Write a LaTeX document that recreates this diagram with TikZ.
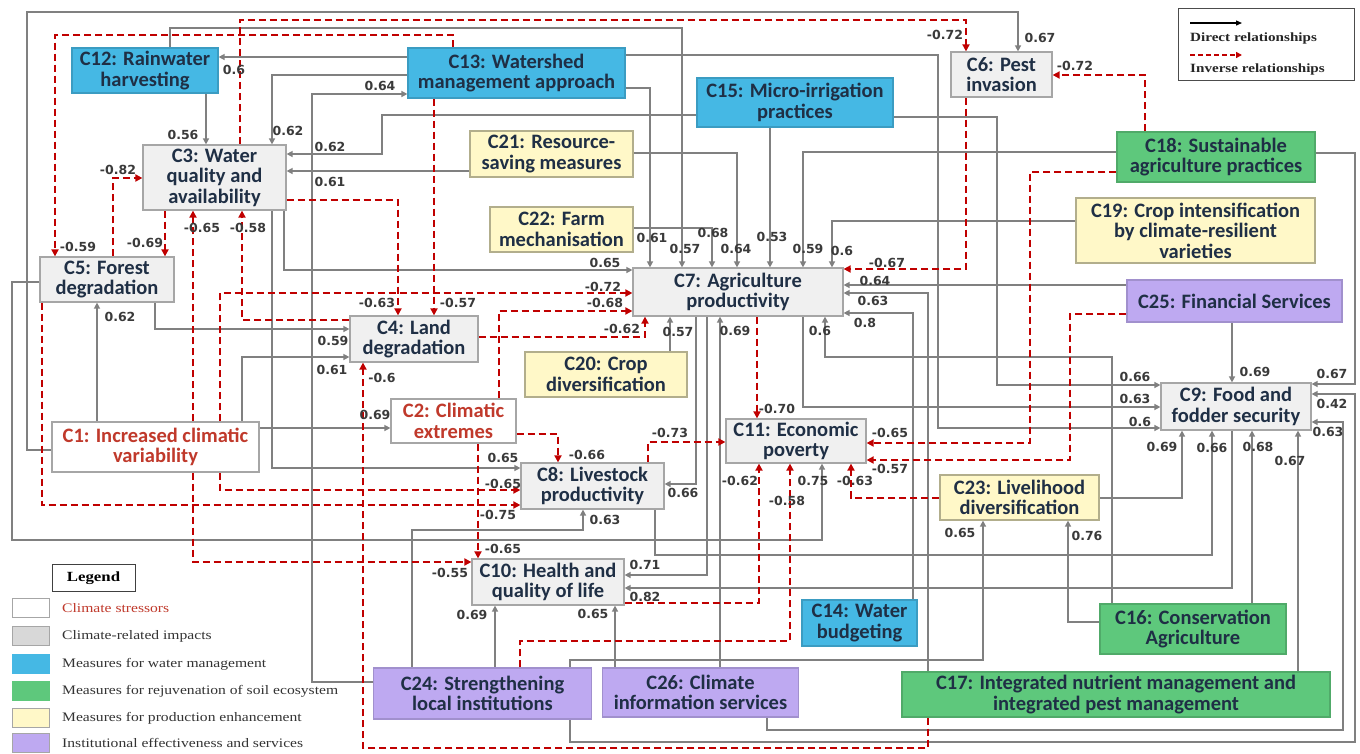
\documentclass[tikz,border=0pt]{standalone}
\usepackage{fontspec}
\setmainfont{Carlito}
\newfontfamily\labfont{DejaVu Sans}
\newfontfamily\legfont[FakeStretch=1.2]{Liberation Serif}
\usetikzlibrary{arrows.meta}
\pgfdeclarelayer{bg}
\pgfsetlayers{bg,main}
\definecolor{edgegray}{HTML}{808080}
\definecolor{negred}{HTML}{C00000}
\definecolor{boxline}{HTML}{A6A6A6}
\definecolor{impfill}{HTML}{F0F0F0}
\definecolor{watfill}{HTML}{45B8E4}
\definecolor{soilfill}{HTML}{5EC87C}
\definecolor{prodfill}{HTML}{FFF8C8}
\definecolor{instfill}{HTML}{BEA9F1}
\definecolor{nodetext}{HTML}{1F2F45}
\definecolor{strtext}{HTML}{C0392B}
\definecolor{labgray}{HTML}{3A3A3A}
\begin{document}
\begin{tikzpicture}[x=1pt,y=-1pt,
 cbox/.style={draw=boxline,line width=1.2pt,align=center,inner sep=0pt,text=nodetext,font=\bfseries\fontsize{20.5}{20.5}\selectfont},
 imp/.style={cbox,fill=impfill},
 stressor/.style={cbox,fill=white,text=strtext},
 water/.style={cbox,fill=watfill,draw=watfill!85!black},
 soil/.style={cbox,fill=soilfill,draw=soilfill!85!black},
 prodm/.style={cbox,fill=prodfill,draw=prodfill!70!black},
 inst/.style={cbox,fill=instfill,draw=instfill!85!black},
 posarr/.style={draw=edgegray,line width=1.4pt,-{Triangle[length=6pt,width=6pt]}},
 negarr/.style={draw=negred,line width=1.9pt,dash pattern=on 7pt off 4pt,-{Triangle[length=7pt,width=7pt]}},
 lab/.style={text=labgray,inner sep=0pt,font=\labfont\bfseries\fontsize{12.5}{13}\selectfont},
 swatch/.style={draw=boxline,line width=1pt,minimum width=37,minimum height=19,inner sep=0pt},
 legtxt/.style={anchor=west,inner sep=0pt,text=black!80,font=\legfont\fontsize{13}{13}\selectfont},
 toptxt/.style={anchor=west,inner sep=0pt,text=black!85,font=\legfont\bfseries\fontsize{12.6}{13}\selectfont},
]
\useasboundingbox (0,0) rectangle (1360,753);
% ---------- nodes ----------
\node[water,minimum width=146,minimum height=45] (C12) at (145,70.5) {C12: Rainwater\\harvesting};
\node[water,minimum width=217,minimum height=50] (C13) at (516.5,73) {C13: Watershed\\management approach};
\node[water,minimum width=196,minimum height=49] (C15) at (795,102.5) {C15: Micro-irrigation\\practices};
\node[imp,minimum width=101,minimum height=45] (C6) at (1001.5,74.5) {C6: Pest\\invasion};
\node[soil,minimum width=198,minimum height=50] (C18) at (1216,157) {C18: Sustainable\\agriculture practices};
\node[prodm,minimum width=239,minimum height=65] (C19) at (1195.5,230.5) {C19: Crop intensification\\by climate-resilient\\varieties};
\node[inst,minimum width=215,minimum height=42] (C25) at (1234.5,301) {C25: Financial Services};
\node[prodm,minimum width=163,minimum height=46] (C21) at (551.5,154) {C21: Resource-\\saving measures};
\node[prodm,minimum width=143,minimum height=45] (C22) at (561.5,229.5) {C22: Farm\\mechanisation};
\node[imp,minimum width=143,minimum height=65] (C3) at (214.5,177.5) {C3: Water\\quality and\\availability};
\node[imp,minimum width=134,minimum height=45] (C5) at (107,279.5) {C5: Forest\\degradation};
\node[imp,minimum width=210,minimum height=48] (C7) at (738,292) {C7: Agriculture\\productivity};
\node[imp,minimum width=128,minimum height=46] (C4) at (414,339) {C4: Land\\degradation};
\node[prodm,minimum width=162,minimum height=45] (C20) at (606,374.5) {C20: Crop\\diversification};
\node[stressor,minimum width=125,minimum height=44] (C2) at (453.5,421) {C2: Climatic\\extremes};
\node[stressor,minimum width=207,minimum height=50] (C1) at (155.5,447) {C1: Increased climatic\\variability};
\node[imp,minimum width=140,minimum height=44] (C11) at (796,441) {C11: Economic\\poverty};
\node[imp,minimum width=143,minimum height=46] (C8) at (592.5,486) {C8: Livestock\\productivity};
\node[prodm,minimum width=159,minimum height=45] (C23) at (1019.5,497.5) {C23: Livelihood\\diversification};
\node[imp,minimum width=150,minimum height=47] (C9) at (1236,406.5) {C9: Food and\\fodder security};
\node[imp,minimum width=152,minimum height=46] (C10) at (548,582) {C10: Health and\\quality of life};
\node[water,minimum width=115,minimum height=46] (C14) at (859.5,623) {C14: Water\\budgeting};
\node[soil,minimum width=186,minimum height=50] (C16) at (1193,629) {C16: Conservation\\Agriculture};
\node[soil,minimum width=428,minimum height=45] (C17) at (1116,694.5) {C17: Integrated nutrient management and\\integrated pest management};
\node[inst,minimum width=218,minimum height=51] (C24) at (482.5,693.5) {C24: Strengthening\\local institutions};
\node[inst,minimum width=196,minimum height=49] (C26) at (700.5,692.5) {C26: Climate\\information services};
% ---------- connectors ----------
\begin{pgfonlayer}{bg}
\fill[white] (0,0) rectangle (1360,753);
% direct
\draw[posarr] (C13.west |- 0,57) -- (C12.east |- 0,57);
\draw[posarr] (C13.west |- 0,75) -| (272,0 |- C3.north);
\draw[posarr] (C24.west |- 0,682) -| (312,94) -- (C13.west |- 0,94);
\draw[posarr] (206,0 |- C12.south) -- (206,0 |- C3.north);
\draw[posarr] (170,0 |- C12.north) |- (682,28) -- (682,0 |- C7.north);
\draw[posarr] (C15.west |- 0,115) -| (382,154) -- (C3.east |- 0,154);
\draw[posarr] (C21.west |- 0,171) -- (C3.east |- 0,171);
\draw[posarr] (284,0 |- C3.south) |- (C7.west |- 0,270);
\draw[posarr] (272,0 |- C3.south) |- (C8.west |- 0,468);
\draw[posarr] (155,0 |- C5.south) |- (C4.west |- 0,329);
\draw[posarr] (242,0 |- C1.north) |- (C4.west |- 0,357);
\draw[posarr] (97,0 |- C1.north) -- (97,0 |- C5.south);
\draw[posarr] (C1.east |- 0,428) -- (C2.west |- 0,428);
\draw[posarr] (C1.west |- 0,450) -| (27,12) -| (1018,0 |- C6.north);
\draw[posarr] (C5.west |- 0,282) -| (12,540) -| (822,0 |- C11.south);
\draw[posarr] (670,0 |- C20.north) -- (670,0 |- C7.south);
\draw[posarr] (C13.east |- 0,88) -| (650,0 |- C7.north);
\draw[posarr] (C22.east |- 0,228) -| (712,0 |- C7.north);
\draw[posarr] (C21.east |- 0,153) -| (737,0 |- C7.north);
\draw[posarr] (770,0 |- C15.south) -- (770,0 |- C7.north);
\draw[posarr] (C18.west |- 0,152) -| (803,0 |- C7.north);
\draw[posarr] (C19.west |- 0,221) -| (832,0 |- C7.north);
\draw[posarr] (C25.west |- 0,285) -- (C7.east |- 0,285);
\draw[posarr] (928,0 |- C17.north) |- (C7.east |- 0,293);
\draw[posarr] (913,0 |- C14.north) |- (C7.east |- 0,313);
\draw[posarr] (720,0 |- C26.north) -- (720,0 |- C7.south);
\draw[posarr] (1112,0 |- C16.north) |- (825,357) -- (825,0 |- C7.south);
\draw[posarr] (696,0 |- C7.south) |- (C8.east |- 0,484);
\draw[posarr] (707,0 |- C7.south) |- (C10.east |- 0,575);
\draw[posarr] (803,0 |- C7.south) |- (C9.west |- 0,407);
\draw[posarr] (C15.east |- 0,117) -| (997,385) -- (C9.west |- 0,385);
\draw[posarr] (C13.east |- 0,55) -| (938,428) -- (C9.west |- 0,428);
\draw[posarr] (655,0 |- C8.south) |- (1212,555) -- (1212,0 |- C9.south);
\draw[posarr] (C23.east |- 0,498) -| (1182,0 |- C9.south);
\draw[posarr] (1252,0 |- C16.north) -- (1252,0 |- C9.south);
\draw[posarr] (1298,0 |- C17.north) -- (1298,0 |- C9.south);
\draw[posarr] (1232,0 |- C9.south) |- (C10.east |- 0,588);
\draw[posarr] (1232,0 |- C25.south) -- (1232,0 |- C9.north);
\draw[posarr] (C18.east |- 0,153) -| (1355,384) -- (C9.east |- 0,384);
\draw[posarr] (570,0 |- C24.south) |- (1355,742) -- (1355,394) -- (C9.east |- 0,394);
\draw[posarr] (767,0 |- C26.south) |- (1343,730) -- (1343,422) -- (C9.east |- 0,422);
\draw[posarr] (570,0 |- C24.north) |- (983,660) -- (983,0 |- C23.south);
\draw[posarr] (C16.west |- 0,622) -| (1068,0 |- C23.south);
\draw[posarr] (412,0 |- C24.north) |- (583,530) -- (583,0 |- C8.south);
\draw[posarr] (495,0 |- C24.north) -- (495,0 |- C10.south);
\draw[posarr] (615,0 |- C26.north) -- (615,0 |- C10.south);
% inverse
\draw[negarr] (240,0 |- C3.north) |- (966,20) -- (966,0 |- C6.north);
\draw[negarr] (966,0 |- C6.south) |- (C7.east |- 0,269);
\draw[negarr] (1145,0 |- C18.north) |- (C6.east |- 0,75);
\draw[negarr] (453,0 |- C13.north) |- (55,35) -- (55,0 |- C5.north);
\draw[negarr] (C3.east |- 0,200) -| (398,0 |- C4.north);
\draw[negarr] (113,0 |- C5.north) |- (C3.west |- 0,178);
\draw[negarr] (165,0 |- C3.south) -- (165,0 |- C5.north);
\draw[negarr] (193,0 |- C1.north) -- (193,0 |- C3.south);
\draw[negarr] (193,0 |- C1.south) |- (C10.west |- 0,562);
\draw[negarr] (C4.west |- 0,320) -| (242,0 |- C3.south);
\draw[negarr] (434,0 |- C13.south) -- (434,0 |- C4.north);
\draw[negarr] (220,0 |- C1.north) |- (C7.west |- 0,293);
\draw[negarr] (220,0 |- C1.south) |- (C8.west |- 0,490);
\draw[negarr] (42,0 |- C5.south) |- (C8.west |- 0,505);
\draw[negarr] (499,0 |- C2.north) |- (C7.west |- 0,311);
\draw[negarr] (C4.east |- 0,337) -| (645,0 |- C7.south);
\draw[negarr] (C2.east |- 0,434) -| (558,0 |- C8.north);
\draw[negarr] (478,0 |- C2.south) -- (478,0 |- C10.north);
\draw[negarr] (928,0 |- C17.south) |- (363,748) -- (363,0 |- C4.south);
\draw[negarr] (757,0 |- C7.south) -- (757,0 |- C11.north);
\draw[negarr] (C18.west |- 0,172) -| (1030,443) -- (C11.east |- 0,443);
\draw[negarr] (C25.west |- 0,314) -| (1070,460) -- (C11.east |- 0,460);
\draw[negarr] (C23.west |- 0,498) -| (851,0 |- C11.south);
\draw[negarr] (648,0 |- C8.north) |- (C11.west |- 0,442);
\draw[negarr] (C10.east |- 0,603) -| (759,0 |- C11.south);
\draw[negarr] (520,0 |- C24.north) |- (790,641) -- (790,0 |- C11.south);
\end{pgfonlayer}
% ---------- labels ----------
\node[lab] (l1) at (234,70) {0.6};
\node[lab] (l2) at (183,135) {0.56};
\node[lab] (l3) at (288,131) {0.62};
\node[lab] (l4) at (330,147) {0.62};
\node[lab] (l5) at (330,182) {0.61};
\node[lab] (l6) at (380,86) {0.64};
\node[lab] (l7) at (118,170) {-0.82};
\node[lab] (l8) at (78,247) {-0.59};
\node[lab] (l9) at (145,243) {-0.69};
\node[lab] (l10) at (202,228) {-0.65};
\node[lab] (l11) at (248,228) {-0.58};
\node[lab] (l12) at (945,35) {-0.72};
\node[lab] (l13) at (1040,38) {0.67};
\node[lab] (l14) at (1075,66) {-0.72};
\node[lab] (l15) at (652,238) {0.61};
\node[lab] (l16) at (685,249) {0.57};
\node[lab] (l17) at (713,233) {0.68};
\node[lab] (l18) at (736,249) {0.64};
\node[lab] (l19) at (772,237) {0.53};
\node[lab] (l20) at (808,249) {0.59};
\node[lab] (l21) at (842,251) {0.6};
\node[lab] (l22) at (887,263) {-0.67};
\node[lab] (l23) at (875,281) {0.64};
\node[lab] (l24) at (873,301) {0.63};
\node[lab] (l25) at (865,323) {0.8};
\node[lab] (l26) at (735,331) {0.69};
\node[lab] (l27) at (820,331) {0.6};
\node[lab] (l28) at (605,263) {0.65};
\node[lab] (l29) at (603,287) {-0.72};
\node[lab] (l30) at (605,303) {-0.68};
\node[lab] (l31) at (622,329) {-0.62};
\node[lab] (l32) at (678,332) {0.57};
\node[lab] (l33) at (377,303) {-0.63};
\node[lab] (l34) at (458,303) {-0.57};
\node[lab] (l35) at (333,341) {0.59};
\node[lab] (l36) at (332,370) {0.61};
\node[lab] (l37) at (382,378) {-0.6};
\node[lab] (l38) at (120,317) {0.62};
\node[lab] (l39) at (375,415) {0.69};
\node[lab] (l40) at (587,455) {-0.66};
\node[lab] (l41) at (503,458) {0.65};
\node[lab] (l42) at (503,484) {-0.65};
\node[lab] (l43) at (670,433) {-0.73};
\node[lab] (l44) at (683,493) {0.66};
\node[lab] (l45) at (498,515) {-0.75};
\node[lab] (l46) at (605,520) {0.63};
\node[lab] (l47) at (503,549) {-0.65};
\node[lab] (l48) at (450,573) {-0.55};
\node[lab] (l49) at (645,565) {0.71};
\node[lab] (l50) at (645,597) {0.82};
\node[lab] (l51) at (472,615) {0.69};
\node[lab] (l52) at (593,614) {0.65};
\node[lab] (l53) at (777,409) {-0.70};
\node[lab] (l54) at (890,433) {-0.65};
\node[lab] (l55) at (890,469) {-0.57};
\node[lab] (l56) at (740,481) {-0.62};
\node[lab] (l57) at (813,481) {0.75};
\node[lab] (l58) at (855,481) {-0.63};
\node[lab] (l59) at (787,501) {-0.58};
\node[lab] (l60) at (1135,377) {0.66};
\node[lab] (l61) at (1135,399) {0.63};
\node[lab] (l62) at (1140,422) {0.6};
\node[lab] (l63) at (1255,372) {0.69};
\node[lab] (l64) at (1332,374) {0.67};
\node[lab] (l65) at (1332,404) {0.42};
\node[lab] (l66) at (1328,432) {0.63};
\node[lab] (l67) at (1162,447) {0.69};
\node[lab] (l68) at (1212,448) {0.66};
\node[lab] (l69) at (1258,447) {0.68};
\node[lab] (l70) at (1290,461) {0.67};
\node[lab] (l71) at (960,533) {0.65};
\node[lab] (l72) at (1087,536) {0.76};
% ---------- top-right legend ----------
\node[draw=black!70,line width=0.8pt,minimum width=176,minimum height=72,inner sep=0pt] (legbox) at (1266,44) {};
\coordinate (da) at (1190,23);
\coordinate (db) at (1242,23);
\coordinate (ia) at (1190,55);
\coordinate (ib) at (1242,55);
\draw[black,line width=1.3pt,-{Triangle[length=6pt,width=5pt]}] (da) -- (db);
\draw[negred,line width=1.6pt,dash pattern=on 5pt off 3pt,-{Triangle[length=6pt,width=6pt]}] (ia) -- (ib);
\node[toptxt] (dtxt) at (1190,38) {Direct relationships};
\node[toptxt] (itxt) at (1190,69) {Inverse relationships};
% ---------- bottom-left legend ----------
\node[draw=black!75,line width=1pt,minimum width=83,minimum height=27,inner sep=0pt,font=\legfont\bfseries\fontsize{14}{14}\selectfont] (legtitle) at (93.5,578) {Legend};
\node[swatch,fill=white] (s1) at (30.5,607.5) {};
\node[swatch,fill=impfill!90!black] (s2) at (30.5,636) {};
\node[swatch,fill=watfill,draw=watfill] (s3) at (30.5,664) {};
\node[swatch,fill=soilfill,draw=soilfill] (s4) at (30.5,691) {};
\node[swatch,fill=prodfill] (s5) at (30.5,717.5) {};
\node[swatch,fill=instfill] (s6) at (30.5,742.5) {};
\node[legtxt,text=strtext] (t1) at (62,608) {Climate stressors};
\node[legtxt] (t2) at (62,636) {Climate-related impacts};
\node[legtxt] (t3) at (62,664) {Measures for water management};
\node[legtxt] (t4) at (62,691) {Measures for rejuvenation of soil ecosystem};
\node[legtxt] (t5) at (62,718) {Measures for production enhancement};
\node[legtxt] (t6) at (62,743) {Institutional effectiveness and services};
\end{tikzpicture}
\end{document}
